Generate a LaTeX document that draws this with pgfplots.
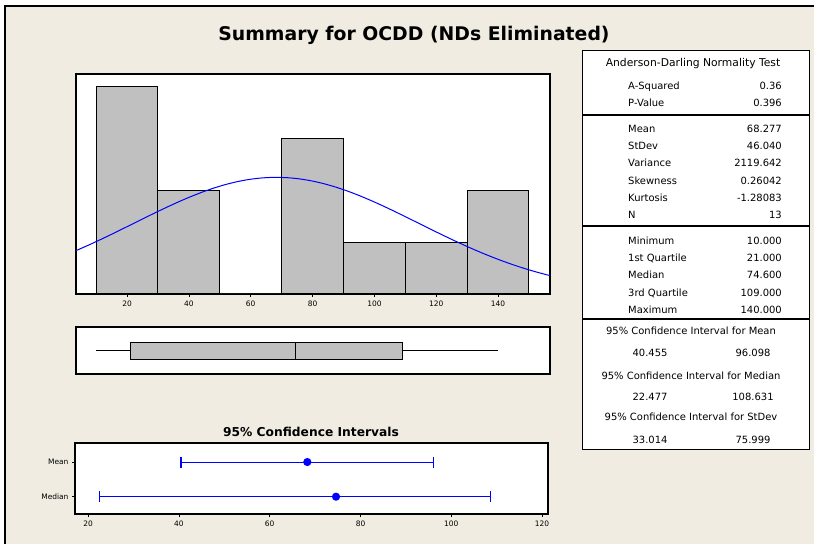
\documentclass[border=0pt]{standalone}
\usepackage{pgfplots}
\pgfplotsset{compat=1.18}
\usepackage{fontspec}
\setmainfont{DejaVu Sans}
\definecolor{bg}{RGB}{240,236,226}
\definecolor{bargray}{RGB}{192,192,192}
\newcommand{\tf}{\fontsize{10}{12}\selectfont}
\begin{document}
\begin{tikzpicture}[x=1bp,y=1bp]
\path[use as bounding box] (0,0) rectangle (814,544);
\fill[white] (0,0) rectangle (814,544);
\fill[bg] (5,0) rectangle (814,538);
\draw[line width=1.2bp] (5,0) -- (5,538) -- (814,538);
% title
\node[font=\fontsize{18.9}{22}\selectfont\bfseries] at (414,509) {Summary for OCDD (NDs Eliminated)};

% stats table
\draw[fill=white, line width=0.8bp] (582,95) rectangle (809,494);
\draw[line width=1.2bp] (582,429) -- (809,429);
\draw[line width=1.2bp] (582,318) -- (809,318);
\draw[line width=1.2bp] (582,225) -- (809,225);
\begin{scope}[every node/.style={font=\tf, inner sep=0pt}]
\node[font=\fontsize{10.8}{12}\selectfont] at (693,480) {Anderson-Darling Normality Test};
\node[anchor=base west] at (628,454) {A-Squared}; \node[anchor=base east] at (782,454) {0.36};
\node[anchor=base west] at (628,437) {P-Value}; \node[anchor=base east] at (782,437) {0.396};
\node[anchor=base west] at (628,411) {Mean}; \node[anchor=base east] at (782,411) {68.277};
\node[anchor=base west] at (628,394) {StDev}; \node[anchor=base east] at (782,394) {46.040};
\node[anchor=base west] at (628,377) {Variance}; \node[anchor=base east] at (782,377) {2119.642};
\node[anchor=base west] at (628,359) {Skewness}; \node[anchor=base east] at (782,359) {0.26042};
\node[anchor=base west] at (628,342) {Kurtosis}; \node[anchor=base east] at (782,342) {-1.28083};
\node[anchor=base west] at (628,325) {N}; \node[anchor=base east] at (782,325) {13};
\node[anchor=base west] at (628,299) {Minimum}; \node[anchor=base east] at (782,299) {10.000};
\node[anchor=base west] at (628,282) {1st Quartile}; \node[anchor=base east] at (782,282) {21.000};
\node[anchor=base west] at (628,265) {Median}; \node[anchor=base east] at (782,265) {74.600};
\node[anchor=base west] at (628,247) {3rd Quartile}; \node[anchor=base east] at (782,247) {109.000};
\node[anchor=base west] at (628,230) {Maximum}; \node[anchor=base east] at (782,230) {140.000};
\node at (691,213) {95\% Confidence Interval for Mean};
\node at (650,191) {40.455}; \node at (753,191) {96.098};
\node at (691,168) {95\% Confidence Interval for Median};
\node at (650,147) {22.477}; \node at (753,147) {108.631};
\node at (691,127) {95\% Confidence Interval for StDev};
\node at (650,104) {33.014}; \node at (753,104) {75.999};
\end{scope}

% histogram
\begin{axis}[at={(76bp,250bp)}, anchor=south west, scale only axis,
  width=474bp, height=220bp,
  xmin=3.5, xmax=156.8, ymin=0, ymax=4.25,
  axis background/.style={fill=white},
  axis line style={line width=1.1bp},
  xtick={20,40,...,140}, ytick=\empty,
  tick align=outside, xtick pos=bottom, major tick length=3bp,
  tick style={black, line width=0.6bp},
  tick label style={font=\fontsize{7.5}{8}\selectfont},
  /pgf/number format/assume math mode=true,
  clip=true]
\addplot[ybar interval, fill=bargray, draw=black, line width=1bp] coordinates {
(10,4) (30,2) (50,0) (70,3) (90,1) (110,1) (130,2) (150,2)};
\addplot[blue, line width=1bp, smooth] coordinates {
(3.5,0.8374) (8,0.9563) (12,1.0674) (16,1.1825) (20,1.3002) (24,1.4188) (28,1.5367)
(32,1.6518) (36,1.7621) (40,1.8658) (44,1.9606) (48,2.0448) (52,2.1166) (56,2.1744)
(60,2.2170) (64,2.2434) (68,2.2531) (72,2.2458) (76,2.2216) (80,2.1812) (84,2.1255)
(88,2.0556) (92,1.9730) (96,1.8795) (100,1.7770) (104,1.6674) (108,1.5528) (112,1.4353)
(116,1.3166) (120,1.1987) (124,1.0831) (128,0.9714) (132,0.8645) (136,0.7637) (140,0.6695)
(144,0.5826) (148,0.5031) (152,0.4312) (156.8,0.3548)};
\end{axis}

% boxplot
\begin{axis}[at={(76bp,170bp)}, anchor=south west, scale only axis,
  width=474bp, height=47bp,
  xmin=3.5, xmax=156.8, ymin=0, ymax=1,
  axis background/.style={fill=white},
  axis line style={line width=1.1bp},
  xtick=\empty, ytick=\empty]
\addplot[fill=bargray, draw=black, line width=1bp] coordinates {(21,0.30) (109,0.30) (109,0.66) (21,0.66) (21,0.30)} -- cycle;
\addplot[black, line width=1bp] coordinates {(74.6,0.30) (74.6,0.66)};
\addplot[black, line width=1bp] coordinates {(10,0.49) (21,0.49)};
\addplot[black, line width=1bp] coordinates {(109,0.49) (140,0.49)};
\end{axis}

% CI title
\node[font=\fontsize{12.3}{14}\selectfont\bfseries] at (311,112) {95\% Confidence Intervals};

% CI plot
\begin{axis}[at={(75bp,30bp)}, anchor=south west, scale only axis,
  width=473bp, height=71bp,
  xmin=17.1, xmax=121.3, ymin=0.5, ymax=2.55,
  axis background/.style={fill=white},
  axis line style={line width=1.1bp},
  xtick={20,40,...,120}, ytick={1,2}, yticklabels={Median,Mean},
  tick align=outside, xtick pos=bottom, ytick pos=left, major tick length=3bp,
  tick style={black, line width=0.6bp},
  tick label style={font=\fontsize{7.5}{8}\selectfont},
  /pgf/number format/assume math mode=true]
\addplot[blue, line width=1.1bp, only marks, mark=*, mark size=3.5bp,
  error bars/.cd, x dir=both, x explicit,
  error mark options={blue, line width=1.1bp, mark size=5.5bp, rotate=90}] coordinates {
(68.277,2) += (27.821,0) -= (27.822,0)
(74.6,1) += (34.031,0) -= (52.123,0)};
\end{axis}
\end{tikzpicture}
\end{document}
